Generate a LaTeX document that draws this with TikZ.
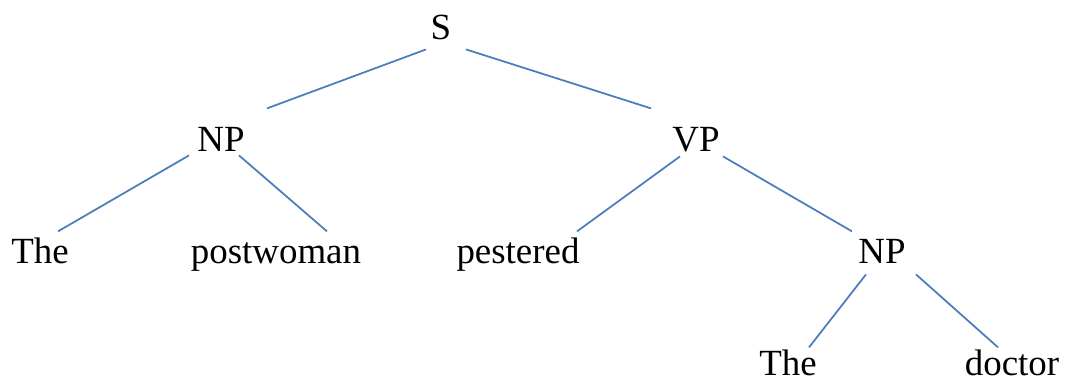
\documentclass[tikz,border=0pt]{standalone}
\usepackage{fontspec}
\setmainfont{Liberation Serif}
\usepackage{tikz}
\usetikzlibrary{positioning}
\definecolor{branchblue}{RGB}{74,126,187}

\begin{document}
\begin{tikzpicture}[
    word/.style={inner sep=0pt, anchor=base, text height=0.68em, text depth=0.22em,
      font=\fontsize{10.5}{12}\selectfont},
    branch/.style={branchblue, line width=0.5pt}
  ]
  \useasboundingbox (0,0) rectangle (10.65,3.79);

  % Phrase labels
  \node[word] (s) at (4.41,3.39) {S};
  \node[word] (np) at (2.21,2.27) {NP};
  \node[word] (vp) at (6.96,2.27) {VP};
  \node[word] (npobj) at (8.82,1.15) {NP};

  % Words
  \node[word] (the) at (0.40,1.15) {The};
  \node[word] (postwoman) at (2.76,1.15) {postwoman};
  \node[word] (pestered) at (5.18,1.15) {pestered};
  \node[word] (theobj) at (7.88,0.03) {The};
  \node[word] (doctor) at (10.12,0.03) {doctor};

  % Branches
  \draw[branch] ([shift={(-0.15,-0.01)}]s.south) -- ([shift={(0.46,0.19)}]np.north);
  \draw[branch] ([shift={(0.25,-0.01)}]s.south) -- ([shift={(-0.45,0.19)}]vp.north);
  \draw[branch] ([shift={(-0.32,0.05)}]np.south) -- ([shift={(0.18,0.08)}]the.north);
  \draw[branch] ([shift={(0.18,0.05)}]np.south) -- ([shift={(0.51,0.08)}]postwoman.north);
  \draw[branch] ([shift={(-0.16,0.04)}]vp.south) -- ([shift={(0.59,0.08)}]pestered.north);
  \draw[branch] ([shift={(0.27,0.04)}]vp.south) -- ([shift={(-0.30,0.08)}]npobj.north);
  \draw[branch] ([shift={(-0.16,-0.02)}]npobj.south) -- ([shift={(0.21,0.04)}]theobj.north);
  \draw[branch] ([shift={(0.34,-0.02)}]npobj.south) -- ([shift={(-0.14,0.04)}]doctor.north);
\end{tikzpicture}
\end{document}
